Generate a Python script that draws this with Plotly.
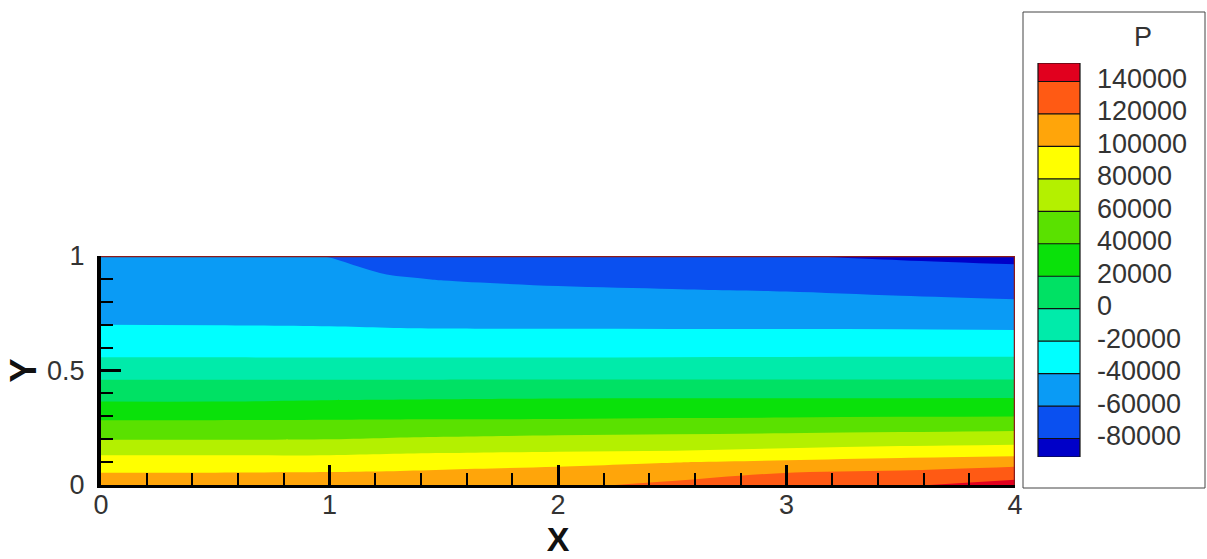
import plotly.graph_objects as go
import numpy as np

W, H = 1207, 559

# ---------------- data ----------------
x_pos = [0.0, 0.5, 1.0, 1.25, 1.5, 2.0, 2.5, 3.0, 3.5, 4.0]
y_pos = [0.0, 0.05, 0.1, 0.15, 0.2, 0.25, 0.3, 0.35, 0.4, 0.45, 0.5,
         0.55, 0.6, 0.65, 0.7, 0.75, 0.8, 0.85, 0.9, 0.95, 1.0]

# pressure profiles P(y) (bottom -> top) at each x position
p_x000 = [108000, 101000, 88400, 74200, 59300, 47800, 35900, 23100, 12200, 1900, -8500,
          -18900, -26300, -33200, -40050, -42200, -44400, -46500, -48700, -50800, -53000]
p_x050 = [108500, 101000, 88400, 74200, 59300, 47800, 35900, 23100, 12200, 1900, -8500,
          -18900, -26400, -33600, -40300, -43000, -45700, -48400, -51100, -53800, -56500]
p_x100 = [110000, 101700, 88600, 74300, 59900, 48200, 36500, 24700, 13300, 2000, -8500,
          -18900, -26900, -34500, -40900, -44100, -47400, -50600, -53900, -57100, -60400]
p_x125 = [111000, 102500, 90000, 75700, 61400, 48800, 36600, 25100, 13600, 2100, -8500,
          -18900, -27200, -35200, -41700, -45900, -50100, -54300, -58600, -62300, -65000]
p_x150 = [112000, 104000, 92100, 76700, 62800, 49300, 36700, 25600, 14000, 2100, -8500,
          -18900, -27400, -35600, -42200, -46900, -51600, -56200, -60600, -63500, -66500]
p_x200 = [116000, 106800, 95400, 78400, 64900, 50400, 36800, 26300, 14900, 2300, -8500,
          -18900, -27400, -35600, -42400, -47800, -53100, -58400, -62600, -66300, -70000]
p_x250 = [124000, 112300, 99200, 79800, 66100, 51800, 37800, 26700, 14900, 2300, -8400,
          -18600, -27200, -35500, -42600, -48200, -53800, -59400, -64200, -68800, -73500]
p_x300 = [131000, 121000, 103300, 83300, 67600, 52800, 38400, 26900, 14900, 2300, -8300,
          -18400, -27100, -35500, -42700, -48700, -54600, -60600, -66200, -71900, -79500]
p_x350 = [138000, 124400, 107400, 87000, 69500, 54200, 39300, 27200, 14900, 2300, -8200,
          -18200, -26900, -35400, -43100, -49900, -56600, -63100, -69400, -75600, -82500]
p_x400 = [146000, 132700, 111400, 89100, 71700, 55400, 39800, 27500, 14900, 2300, -8200,
          -18200, -27100, -35700, -43700, -51100, -58500, -65200, -71600, -78100, -85000]

levels = [-80000, -60000, -40000, -20000, 0, 20000, 40000,
          60000, 80000, 100000, 120000, 140000]
band_colors = ["#0000C8", "#0A50F0", "#0A9BF5", "#00FFFF", "#00EBAA", "#00E164",
               "#0AE10A", "#5AE100", "#B4F000", "#FFFF00", "#FFA50A", "#FF5A14", "#E1001E"]

x_ticks = [0, 1, 2, 3, 4]
y_ticks = [0, 0.5, 1]

# ---------------- build ----------------
z = np.array([p_x000, p_x050, p_x100, p_x125, p_x150, p_x200,
              p_x250, p_x300, p_x350, p_x400]).T

step = levels[1] - levels[0]
n_bands = len(band_colors)
colorscale = [[k / (n_bands - 1), c] for k, c in enumerate(band_colors)]

fig = go.Figure()
fig.add_trace(go.Contour(
    x=x_pos, y=y_pos, z=z,
    autocontour=False,
    contours=dict(start=levels[0], end=levels[-1], size=step,
                  coloring="fill", showlines=False),
    line=dict(width=0),
    colorscale=colorscale,
    showscale=False,
    hoverinfo="skip",
    xaxis="x", yaxis="y",
))

# legend swatches as a heatmap on its own axes (end swatches a bit over half height)
end_part = 0.57 * step
edges = [levels[0] - end_part] + levels + [levels[-1] + end_part]
band_vals = [levels[0] - step / 2] + [lv + step / 2 for lv in levels]
fig.add_trace(go.Heatmap(
    x=[0, 1], y=edges, z=[[v] for v in band_vals],
    zmin=band_vals[0], zmax=band_vals[-1],
    colorscale=colorscale, showscale=False, hoverinfo="skip",
    xaxis="x2", yaxis="y2",
))

shapes = []
for lv in levels:
    shapes.append(dict(type="line", xref="x2 domain", yref="y2",
                       x0=0, x1=1, y0=lv, y1=lv,
                       line=dict(color="#111", width=1.2)))
shapes.append(dict(type="rect", xref="x2 domain", yref="y2",
                   x0=0, x1=1, y0=edges[0], y1=edges[-1],
                   line=dict(color="#111", width=1.2)))
# legend frame
shapes.append(dict(type="rect", xref="paper", yref="paper",
                   x0=1023 / W, x1=1205 / W, y0=(H - 488) / H, y1=(H - 12) / H,
                   line=dict(color="#444", width=1)))
# top and right frame of the plot
shapes.append(dict(type="line", xref="x", yref="y", x0=x_ticks[0], x1=x_ticks[-1],
                   y0=y_ticks[-1], y1=y_ticks[-1], line=dict(color="#8B1A1A", width=2.5)))
shapes.append(dict(type="line", xref="x", yref="y", x0=x_ticks[-1], x1=x_ticks[-1],
                   y0=y_ticks[0], y1=y_ticks[-1], line=dict(color="#8B1A1A", width=2.5)))

font_family = "Arial, Liberation Sans, Helvetica, sans-serif"

fig.update_layout(
    template="none",
    width=W, height=H,
    margin=dict(l=0, r=0, t=0, b=0, pad=0),
    paper_bgcolor="white", plot_bgcolor="white",
    font=dict(family=font_family, size=27, color="#333"),
    showlegend=False,
    shapes=shapes,
    xaxis=dict(domain=[101 / W, 1015 / W], range=[x_ticks[0], x_ticks[-1]], anchor="y",
               automargin=False,
               tickvals=x_ticks, ticks="inside", ticklen=20, tickwidth=3, tickcolor="black",
               minor=dict(dtick=0.2, ticks="inside", ticklen=12, tickwidth=2, tickcolor="black"),
               showline=True, linecolor="black", linewidth=3,
               showgrid=False, zeroline=False, ticklabelstandoff=-6,
               title=dict(text="<b>X</b>", font=dict(size=34, color="#111"), standoff=5)),
    yaxis=dict(domain=[(H - 485) / H, (H - 256) / H], range=[y_ticks[0], y_ticks[-1]], anchor="x",
               automargin=False,
               tickvals=y_ticks, ticks="inside", ticklen=20, tickwidth=3, tickcolor="black",
               minor=dict(dtick=0.1, ticks="inside", ticklen=12, tickwidth=2, tickcolor="black"),
               showline=True, linecolor="black", linewidth=4,
               showgrid=False, zeroline=False, ticklabelstandoff=7,
               title=dict(text="<b>Y</b>", font=dict(size=36, color="#111"), standoff=0)),
    xaxis2=dict(domain=[1038 / W, 1080 / W], range=[0, 1], anchor="y2", visible=False,
                automargin=False),
    yaxis2=dict(domain=[(H - 457) / H, (H - 63) / H], range=[edges[0], edges[-1]], anchor="x2",
                automargin=False,
                side="right", tickvals=levels, ticktext=[str(lv) for lv in levels],
                ticks="", showline=False, showgrid=False, zeroline=False,
                ticklabelstandoff=16, ticklabelshift=-3, tickfont=dict(size=27, color="#333")),
    annotations=[dict(text="P", xref="paper", yref="paper", x=1143 / W, y=(H - 37) / H,
                      xanchor="center", yanchor="middle", showarrow=False,
                      font=dict(size=27, color="#333"))],
)

fig.write_html("out.html", config={"displayModeBar": False},
               post_script="document.body.style.margin='0';document.body.style.overflow='hidden';")
